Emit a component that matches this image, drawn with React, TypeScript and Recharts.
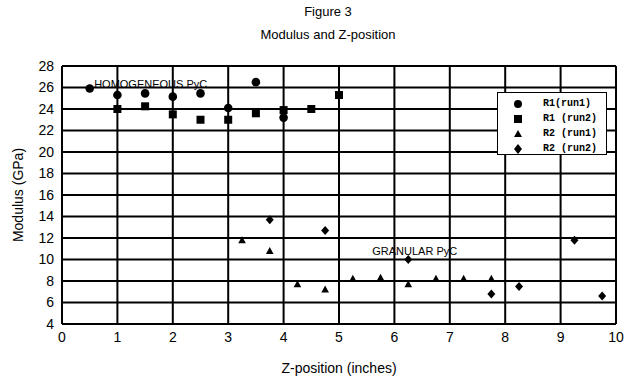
import React from 'react';
import { ScatterChart, Scatter, XAxis, YAxis, CartesianGrid, ReferenceDot } from 'recharts';

const r1Run1 = [
  { z: 0.5, m: 25.9 }, { z: 1, m: 25.3 }, { z: 1.5, m: 25.45 }, { z: 2, m: 25.15 },
  { z: 2.5, m: 25.45 }, { z: 3, m: 24.1 }, { z: 3.5, m: 26.5 }, { z: 4, m: 23.2 },
];
const r1Run2 = [
  { z: 1, m: 24.0 }, { z: 1.5, m: 24.25 }, { z: 2, m: 23.5 }, { z: 2.5, m: 23.0 },
  { z: 3, m: 23.0 }, { z: 3.5, m: 23.6 }, { z: 4, m: 23.9 }, { z: 4.5, m: 24.0 }, { z: 5, m: 25.3 },
];
const r2Run1 = [
  { z: 3.25, m: 11.8 }, { z: 3.75, m: 10.8 }, { z: 4.25, m: 7.7 }, { z: 4.75, m: 7.2 },
  { z: 5.25, m: 8.2 }, { z: 5.75, m: 8.3 }, { z: 6.25, m: 7.7 }, { z: 6.75, m: 8.2 },
  { z: 7.25, m: 8.2 }, { z: 7.75, m: 8.2 },
];
const r2Run2 = [
  { z: 3.75, m: 13.7 }, { z: 4.75, m: 12.7 }, { z: 6.25, m: 10.0 }, { z: 7.75, m: 6.8 },
  { z: 8.25, m: 7.5 }, { z: 9.25, m: 11.8 }, { z: 9.75, m: 6.6 },
];
const xTicks = [0, 1, 2, 3, 4, 5, 6, 7, 8, 9, 10];
const yTicks = [4, 6, 8, 10, 12, 14, 16, 18, 20, 22, 24, 26, 28];
const seriesNames = ['R1(run1)', 'R1 (run2)', 'R2 (run1)', 'R2 (run2)'];
const annotations = [
  { z: 0.58, m: 26.0, text: 'HOMOGENEOUS PyC' },
  { z: 5.6, m: 10.4, text: 'GRANULAR PyC' },
];

const FONT = 'Arial, "Liberation Sans", Helvetica, sans-serif';

const CircleShape = (p: any) => <circle cx={p.cx} cy={p.cy} r={4.3} fill="#000" />;
const SquareShape = (p: any) => <rect x={p.cx - 4} y={p.cy - 4} width={8} height={8} fill="#000" />;
const TriangleShape = (p: any) => (
  <polygon points={`${p.cx},${p.cy - 4} ${p.cx + 3.8},${p.cy + 3} ${p.cx - 3.8},${p.cy + 3}`} fill="#000" />
);
const DiamondShape = (p: any) => (
  <polygon points={`${p.cx},${p.cy - 4.5} ${p.cx + 4},${p.cy} ${p.cx},${p.cy + 4.5} ${p.cx - 4},${p.cy}`} fill="#000" />
);

const legendIcons = [
  <circle cx={6} cy={6} r={4} fill="#000" />,
  <rect x={2} y={2} width={8} height={8} fill="#000" />,
  <polygon points="6,2 10,9 2,9" fill="#000" />,
  <polygon points="6,1 10,6 6,11 2,6" fill="#000" />,
];

const LegendBox = () => (
  <div
    style={{
      position: 'absolute',
      left: 497,
      top: 92,
      border: '1.5px solid #000',
      background: '#fff',
      width: 110,
      height: 63,
      boxSizing: 'border-box',
      padding: '3px 0 0 14px',
    }}
  >
    {seriesNames.map((n, i) => (
      <div key={n} style={{ display: 'flex', alignItems: 'center', height: 15 }}>
        <svg width={12} height={12}>{legendIcons[i]}</svg>
        <span
          style={{
            marginLeft: 19,
            fontFamily: '"Liberation Mono", "DejaVu Sans Mono", monospace',
            fontWeight: 'bold',
            fontSize: 10,
            whiteSpace: 'pre',
          }}
        >
          {n}
        </span>
      </div>
    ))}
  </div>
);

const makeTextShape = (text: string) => (p: any) => (
  <text x={p.cx} y={p.cy} fontFamily={FONT} fontSize={11} fill="#000" textAnchor="start">
    {text}
  </text>
);

const YLabel = (props: any) => {
  const vb = props.viewBox;
  const cx = 18;
  const cy = vb.y + vb.height / 2;
  return (
    <text x={cx} y={cy} transform={`rotate(-90, ${cx}, ${cy})`} textAnchor="middle" dominantBaseline="central"
      fontFamily={FONT} fontSize={14} fill="#000">
      Modulus (GPa)
    </text>
  );
};

export default function App() {
  return (
    <div style={{ position: 'absolute', left: 0, top: 0, width: 625, height: 376, background: '#fff' }}>
      <div style={{ position: 'absolute', left: 0, top: 4, width: 656, textAlign: 'center', fontFamily: FONT, fontSize: 13 }}>
        Figure 3
      </div>
      <div style={{ position: 'absolute', left: 0, top: 27, width: 656, textAlign: 'center', fontFamily: FONT, fontSize: 13 }}>
        Modulus and Z-position
      </div>
      <ScatterChart width={625} height={376} margin={{ top: 66, right: 9, bottom: 0, left: 0 }}>
        <CartesianGrid stroke="#000" strokeWidth={2} />
        <XAxis
          type="number"
          dataKey="z"
          domain={[0, 10]}
          ticks={xTicks}
          interval={0}
          height={52}
          tickLine={false}
          axisLine={{ stroke: '#000', strokeWidth: 2 }}
          tick={{ fill: '#000', fontFamily: FONT, fontSize: 14 }}
          label={{ value: 'Z-position (inches)', position: 'insideBottom', offset: 3, fill: '#000', fontFamily: FONT, fontSize: 14 }}
        />
        <YAxis
          type="number"
          dataKey="m"
          domain={[4, 28]}
          ticks={yTicks}
          interval={0}
          width={62}
          tickLine={false}
          axisLine={{ stroke: '#000', strokeWidth: 2 }}
          tick={{ fill: '#000', fontFamily: FONT, fontSize: 14 }}
          label={<YLabel />}
        />
        <Scatter name={seriesNames[0]} data={r1Run1} shape={CircleShape} isAnimationActive={false} />
        <Scatter name={seriesNames[1]} data={r1Run2} shape={SquareShape} isAnimationActive={false} />
        <Scatter name={seriesNames[2]} data={r2Run1} shape={TriangleShape} isAnimationActive={false} />
        <Scatter name={seriesNames[3]} data={r2Run2} shape={DiamondShape} isAnimationActive={false} />
        {annotations.map((a) => (
          <ReferenceDot key={a.text} x={a.z} y={a.m} r={1} shape={makeTextShape(a.text)} />
        ))}
      </ScatterChart>
      <LegendBox />
    </div>
  );
}
